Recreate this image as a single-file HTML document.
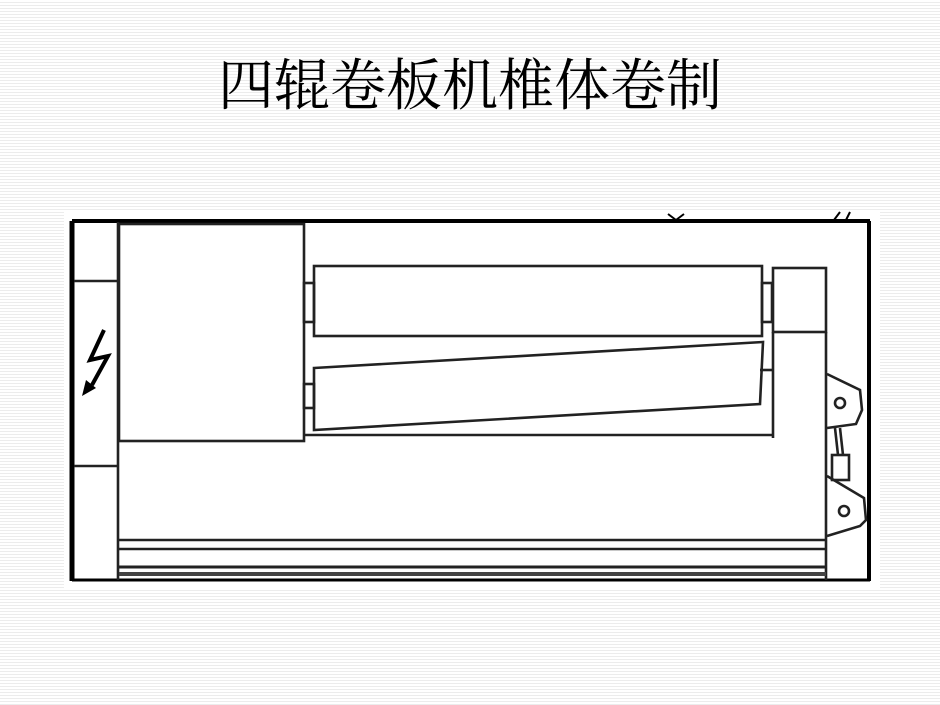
<!DOCTYPE html>
<html><head><meta charset="utf-8"><style>
html,body{margin:0;padding:0}
body{width:940px;height:705px;overflow:hidden;position:relative;
background:repeating-linear-gradient(to bottom,#fff 0,#fff 2px,#ececec 2px,#ececec 3px);}
.t{position:absolute;left:0;width:940px;top:52px;text-align:center;font-family:"Liberation Serif","Noto Serif CJK SC",serif;font-size:56px;line-height:70px;color:#000}
svg{position:absolute;left:0;top:0}
</style></head><body>
<div class="t">四辊卷板机椎体卷制</div>
<svg width="940" height="705" viewBox="0 0 940 705">
<rect x="64" y="212" width="816" height="378" fill="#fff"/>
<g fill="none" stroke="#222" stroke-width="2.6">
<line x1="72" y1="221" x2="870" y2="221" stroke="#000" stroke-width="4"/>
<line x1="72" y1="221" x2="72" y2="581" stroke="#000" stroke-width="5"/>
<line x1="869" y1="221" x2="869" y2="581" stroke="#000" stroke-width="4"/>
<line x1="72" y1="580" x2="870" y2="580" stroke="#000" stroke-width="3"/>
<line x1="118" y1="222" x2="118" y2="580"/>
<line x1="74" y1="281" x2="118" y2="281"/>
<line x1="74" y1="466" x2="118" y2="466"/>
<rect x="119" y="224" width="185" height="217"/>
<rect x="314" y="266" width="448" height="70"/>
<rect x="304" y="283" width="10" height="39"/>
<rect x="762" y="283" width="10" height="39"/>
<rect x="773" y="268" width="53" height="64"/>
<line x1="773" y1="332" x2="773" y2="438"/>
<line x1="826" y1="332" x2="826" y2="580"/>
<polygon points="314,368 763,342 760,404 314,430"/>
<rect x="304" y="384" width="10" height="24"/>
<line x1="760" y1="370" x2="773" y2="370"/>
<line x1="304" y1="435" x2="773" y2="435"/>
<line x1="119" y1="540" x2="826" y2="540"/>
<line x1="119" y1="549" x2="826" y2="549"/>
<line x1="119" y1="567" x2="826" y2="567" stroke-width="3"/>
<line x1="119" y1="574" x2="826" y2="574" stroke-width="4" stroke="#444"/>
<path d="M827,374 L860,390 L862,410 L856,424 L827,428"/>
<circle cx="840" cy="403" r="5"/>
<path d="M827,476 L864,498 L866,520 L860,526 L827,536"/>
<circle cx="844" cy="511" r="5"/>
<line x1="835" y1="428" x2="838" y2="455"/>
<line x1="840" y1="428" x2="843" y2="455"/>
<rect x="832" y="455" width="17" height="25"/>
</g>
<path d="M104,330 L90,360 L108,356 L92,385" fill="none" stroke="#000" stroke-width="4"/>
<polygon points="82,396 86,380 96,388" fill="#000"/>
<path d="M668,214 L676,220 L684,214" stroke="#000" stroke-width="2" fill="none"/>
<path d="M834,220 L840,212 M846,220 L850,212" stroke="#000" stroke-width="2"/>
</svg>
</body></html>
